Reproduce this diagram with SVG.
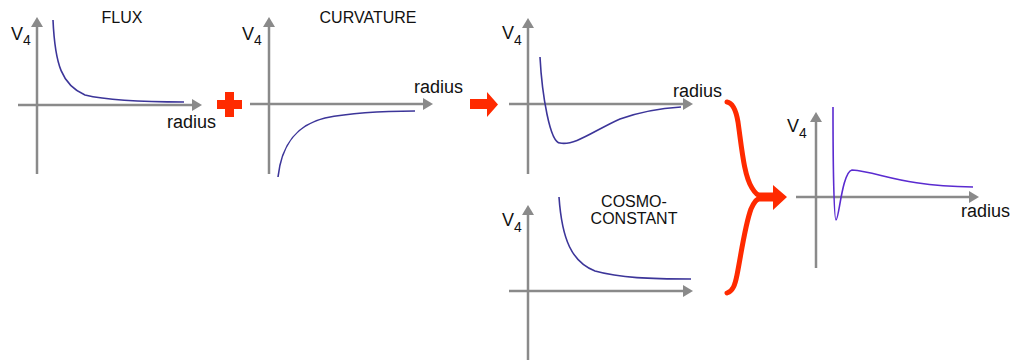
<svg xmlns="http://www.w3.org/2000/svg" width="1011" height="360" viewBox="0 0 1011 360">
<style>
.ax{stroke:#8a8a8a;stroke-width:2.5;fill:none;marker-end:url(#ah)}
.cv{stroke:#3c3599;stroke-width:1.6;fill:none}
.cv2{stroke:#5a2bd0;stroke-width:1.6;fill:none}
.t{font-family:"Liberation Sans",Arial,sans-serif;fill:#111}
.lab{font-size:16px;text-anchor:middle}
.rad{font-size:18px}
.v{font-size:18px}
.s{font-size:14px}
.red{fill:#ff2a00}
</style>
<defs>
<marker id="ah" viewBox="0 0 10 12" refX="0" refY="6" markerWidth="10" markerHeight="12" markerUnits="userSpaceOnUse" orient="auto">
<path d="M0,0 L10,6 L0,12 z" fill="#8a8a8a"/>
</marker>
</defs>
<rect width="1011" height="360" fill="#fff"/>

<g id="flux">
<line class="ax" x1="37" y1="174" x2="37" y2="27"/>
<line class="ax" x1="18" y1="105" x2="192" y2="105"/>
<path class="cv" d="M53,20 C55,65 62,85 85,95 C110,101 150,102 184,102"/>
<text class="t v" x="11" y="40">V<tspan class="s" dy="5">4</tspan></text>
<text class="t lab" x="122" y="23">FLUX</text>
<text class="t rad" x="167" y="128">radius</text>
</g>

<g id="curvature">
<line class="ax" x1="269" y1="174" x2="269" y2="27"/>
<line class="ax" x1="250" y1="104" x2="423" y2="104"/>
<path class="cv" d="M278,177 C281,150 292,126 325,118 C355,112 385,111 415,111"/>
<text class="t v" x="242" y="40">V<tspan class="s" dy="5">4</tspan></text>
<text class="t lab" x="368" y="23">CURVATURE</text>
<text class="t rad" x="414" y="93">radius</text>
</g>

<g id="sum">
<line class="ax" x1="528" y1="174" x2="528" y2="28"/>
<line class="ax" x1="509" y1="104" x2="683" y2="104"/>
<path class="cv" d="M540,57 C542,95 550,143 560,143 C575,146 595,130 620,119 C645,110 665,108 681,107"/>
<text class="t v" x="502" y="39">V<tspan class="s" dy="6">4</tspan></text>
<text class="t rad" x="673" y="97">radius</text>
</g>

<g id="cosmo">
<line class="ax" x1="528" y1="360" x2="528" y2="215"/>
<line class="ax" x1="509" y1="291" x2="683" y2="291"/>
<path class="cv" d="M559,197 C562,240 572,262 595,271 C620,278 650,279 691,279"/>
<text class="t v" x="502" y="226">V<tspan class="s" dy="6">4</tspan></text>
<text class="t lab" x="634" y="207">COSMO-</text>
<text class="t lab" x="634" y="224">CONSTANT</text>
</g>

<g id="result">
<line class="ax" x1="816" y1="268" x2="816" y2="122"/>
<line class="ax" x1="796" y1="197" x2="969" y2="197"/>
<path class="cv2" d="M833,107 C833,170 834,220 836,220 C839,220 842,172 852,170 C880,172 900,186 973,187"/>
<text class="t v" x="787" y="132">V<tspan class="s" dy="6">4</tspan></text>
<text class="t rad" x="961" y="217">radius</text>
</g>

<g id="connectors">
<path class="red" d="M225,92 H234 V100 H242 V109 H234 V117 H225 V109 H217 V100 H225 z"/>
<path class="red" d="M470,99 H487 V92 L498,104.5 L487,117 V109 H470 z"/>
<path d="M727,102 C733,103 736,110 738,122 C742,150 744,175 752,188 C755,193 758,196 762,197 M762,197 C757,198 754,202 751,209 C745,225 741,255 737,275 C735,285 733,291 727,293" fill="none" stroke="#ff2a00" stroke-width="5" stroke-linecap="round"/>
<path class="red" d="M758,192.5 H773 V185 L787,197 L773,210 V201.5 H758 z"/>
</g>
</svg>
